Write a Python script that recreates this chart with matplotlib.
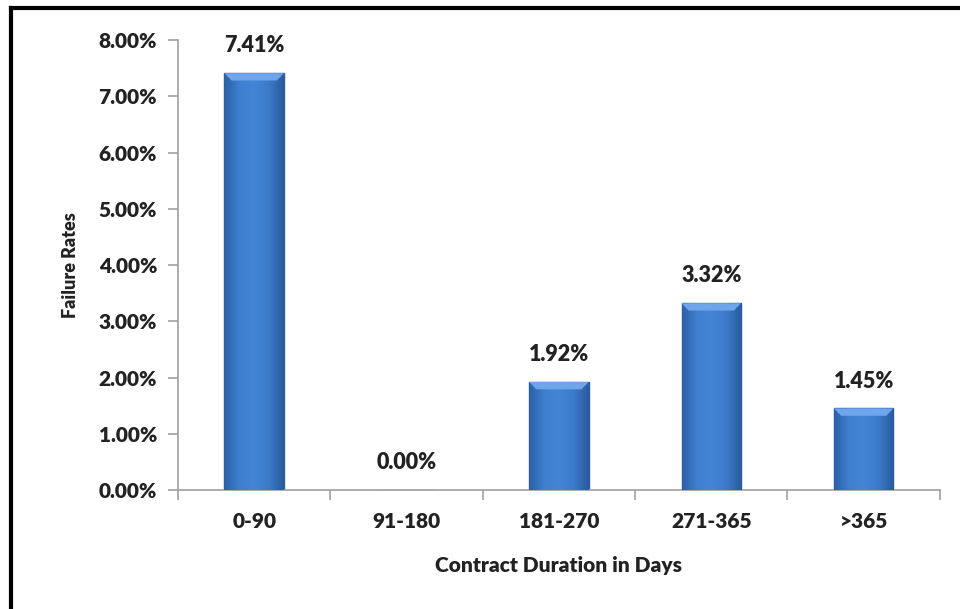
import numpy as np
import matplotlib.pyplot as plt
from matplotlib.colors import LinearSegmentedColormap
from matplotlib.patches import Polygon
from matplotlib.ticker import FuncFormatter

plt.rcParams['font.family'] = ['Lato', 'DejaVu Sans']
plt.rcParams['font.weight'] = 'heavy'
plt.rcParams['axes.labelweight'] = 'heavy'

categories = ['0-90', '91-180', '181-270', '271-365', '>365']
failure_rates = [7.41, 0.00, 1.92, 3.32, 1.45]

fig = plt.figure(figsize=(9.6, 6.09), dpi=100)
ax = fig.add_axes([0.1854, 0.1954, 0.7936, 0.7389])

x = np.arange(len(categories))
bars = ax.bar(x, failure_rates, width=0.39, color='#3d7ccc',
              edgecolor='#2a5d9c', linewidth=1.0, zorder=2)

# horizontal shading across each bar for the bevelled look
shade = LinearSegmentedColormap.from_list(
    'shade', ['#2b60a6', '#3f7fd0', '#4485d5', '#3c7bcb', '#2a5b9c'])
grad = np.linspace(0, 1, 64).reshape(1, -1)
for b in bars:
    h = b.get_height()
    if h <= 0:
        continue
    x0, w = b.get_x(), b.get_width()
    im = ax.imshow(grad, cmap=shade, aspect='auto', zorder=3,
                   extent=(x0, x0 + w, 0, h), interpolation='bicubic')
    im.set_clip_path(b)
    d = 0.13
    ax.add_patch(Polygon([(x0, h), (x0 + w, h), (x0 + w * 0.88, h - d),
                          (x0 + w * 0.12, h - d)], closed=True,
                         facecolor='#6fa5ea', edgecolor='none', zorder=4))

for xi, v in zip(x, failure_rates):
    ax.text(xi, v + 0.3, f'{v:.2f}%', ha='center', va='bottom',
            fontsize=15.5, fontweight='heavy', color='#222222')

ax.set_xlim(-0.5, len(categories) - 0.5)
ax.set_ylim(0, 8)
ax.set_yticks(np.arange(0, 9, 1))
ax.yaxis.set_major_formatter(FuncFormatter(lambda v, p: f'{v:.2f}%'))
ax.set_xticks(x)
ax.set_xticklabels(categories)
ax.set_xticks(np.arange(-0.5, len(categories)), minor=True)
ax.tick_params(axis='x', which='major', length=0, pad=16, labelsize=15, labelcolor='#222222')
ax.tick_params(axis='x', which='minor', length=7, color='#a0a0a0', width=1.2)
ax.tick_params(axis='y', length=7, color='#a0a0a0', width=1.2, pad=8, labelsize=15,
               labelcolor='#222222')

for s in ['top', 'right']:
    ax.spines[s].set_visible(False)
for s in ['left', 'bottom']:
    ax.spines[s].set_color('#a0a0a0')
    ax.spines[s].set_linewidth(1.2)

ax.set_xlabel('Contract Duration in Days', fontsize=15, labelpad=18, color='#222222')
ax.set_ylabel('Failure Rates', fontsize=13, labelpad=14, color='#222222')

# outer frame (left and top edges visible in the screenshot)
fig.add_artist(plt.Line2D([0.0115, 0.0115], [0, 0.987], transform=fig.transFigure,
                          color='black', lw=3))
fig.add_artist(plt.Line2D([0.0115, 1.0], [0.987, 0.987], transform=fig.transFigure,
                          color='black', lw=3))

fig.savefig('out.png', dpi=100)
